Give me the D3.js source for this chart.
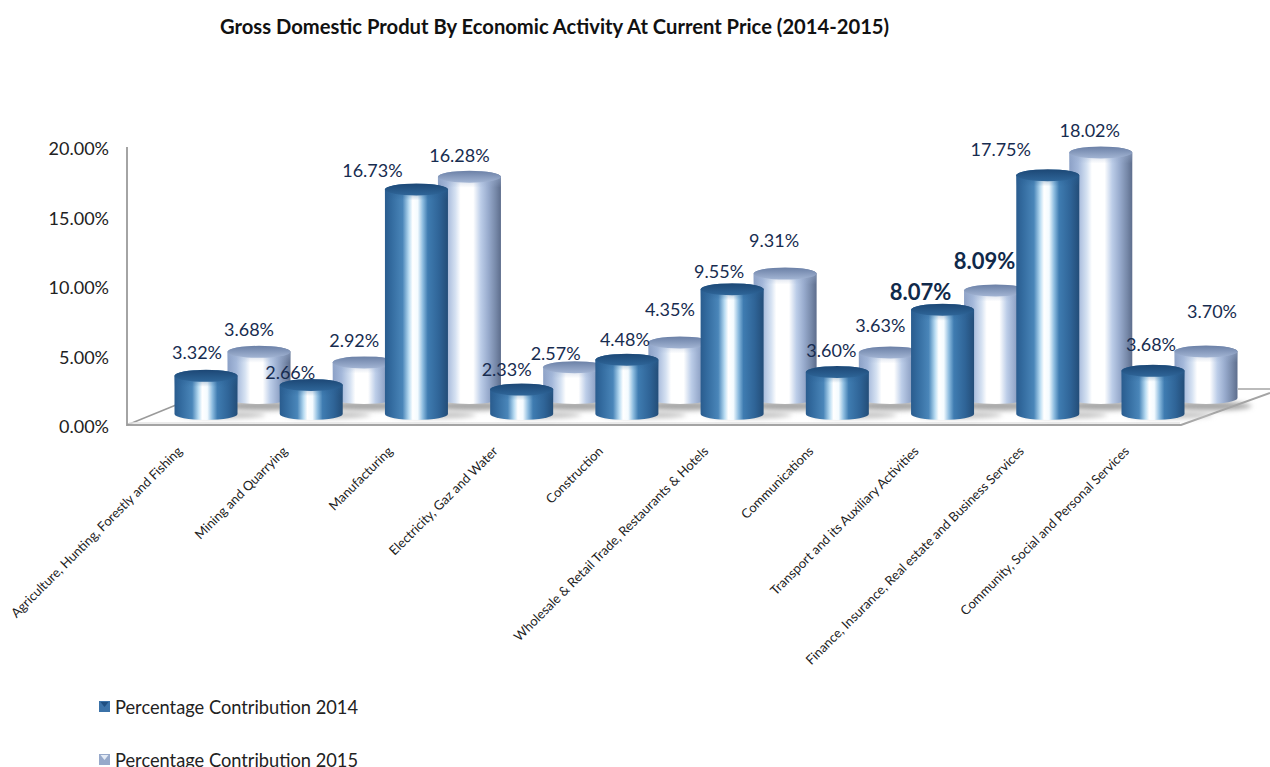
<!DOCTYPE html>
<html lang="en">
<head>
<meta charset="utf-8">
<script src="https://d3js.org/d3.v7.min.js"></script>
<style>
    html, body { margin: 0; padding: 0; background: #fff; overflow: hidden; }
    svg { display: block; }
    text { font-family: Lato, "Open Sans", sans-serif; }
    .domain { display: none; }
    .tick line { display: none; }
</style>
</head>
<body>
<div id="chart"></div>
<script>
    var categories = [
        "Agriculture, Hunting, Forestly and Fishing",
        "Mining and Quarrying",
        "Manufacturing",
        "Electricity, Gaz and Water",
        "Construction",
        "Wholesale & Retail Trade, Restaurants & Hotels",
        "Communications",
        "Transport and its Auxiliary Activities",
        "Finance, Insurance, Real estate and Business Services",
        "Community, Social and Personal Services"
    ];
    var values2014 = [3.32, 2.66, 16.73, 2.33, 4.48, 9.55, 3.60, 8.07, 17.75, 3.68];
    var values2015 = [3.68, 2.92, 16.28, 2.57, 4.35, 9.31, 3.63, 8.09, 18.02, 3.70];
    var yTicks = [0, 5, 10, 15, 20];
    var seriesNames = ["Percentage Contribution 2014", "Percentage Contribution 2015"];

    // hand placed data labels, offset from the top of each cylinder
    var nudge2014 = [[-9, -11], [-21, 0], [-44, -6], [-15, -8], [-2, -8], [-13, -5], [-6, -9], [-22, -4], [-47, -13], [-2, -14]];
    var nudge2015 = [[-10, -10], [-10, -9], [-10, -9], [-19, -1], [-10, -21], [-11, -21], [-10, -15], [-11, -16], [-11, -10], [6, -28]];

    var width = 1270, height = 767;
    var svg = d3.select("#chart").append("svg").attr("width", width).attr("height", height);
    var defs = svg.append("defs");

    function grad(id, stops, vertical) {
        var g = defs.append("linearGradient").attr("id", id);
        if (vertical) g.attr("x1", 0).attr("x2", 0).attr("y1", 0).attr("y2", 1);
        stops.forEach(function(s) {
            g.append("stop").attr("offset", s[0]).attr("stop-color", s[1]).attr("stop-opacity", s[2] === undefined ? 1 : s[2]);
        });
    }
    grad("body14", [[0, "#2a5c8e"], [0.1, "#336b9f"], [0.28, "#4a86b9"], [0.38, "#b9dcf2"], [0.44, "#ffffff"], [0.52, "#f4fbff"], [0.6, "#8ebde0"], [0.68, "#3f7cb1"], [0.86, "#2f6497"], [1, "#234d78"]]);
    grad("body15", [[0, "#8ba0c6"], [0.14, "#a4b8da"], [0.28, "#d6e2f2"], [0.36, "#ffffff"], [0.56, "#ffffff"], [0.68, "#bccde8"], [0.8, "#98abcd"], [0.92, "#7688a8"], [1, "#5d6d8c"]]);
    grad("top14", [[0, "#1c4775"], [1, "#2f6699"]], true);
    grad("top15", [[0, "#6b80a6"], [1, "#a3b5d4"]], true);
    grad("bevel14", [[0, "#2a5f93", 0.55], [1, "#2a5f93", 0]], true);
    grad("bevel15", [[0, "#98abcc", 0.55], [1, "#98abcc", 0]], true);

    var blur = defs.append("filter").attr("id", "soft").attr("x", "-30%").attr("y", "-100%").attr("width", "160%").attr("height", "300%");
    blur.append("feGaussianBlur").attr("stdDeviation", 2.5);

    // value scale, a cylinder top sits at rowBase + y(v)
    var y = d3.scaleLinear().domain([0, 20]).range([425, 147]);
    var x = d3.scalePoint().domain(categories).range([206, 1153]);
    var rx = 31.5, ry = 6;

    // title
    svg.append("text").attr("x", 220).attr("y", 34)
        .attr("font-size", 20.2).attr("font-weight", 700).attr("fill", "#111")
        .text("Gross Domestic Produt By Economic Activity At Current Price (2014-2015)");

    // floor and wall
    var wall = "#a4a4a4";
    svg.append("path").attr("d", "M127,147V425H1181L1270,393").attr("fill", "none").attr("stroke", wall).attr("stroke-width", 2);
    svg.append("path").attr("d", "M127,425L176,405").attr("fill", "none").attr("stroke", "#9a9a9a").attr("stroke-width", 1.5);
    svg.append("path").attr("d", "M1238,389H1270").attr("fill", "none").attr("stroke", wall).attr("stroke-width", 1.5);
    svg.append("path").attr("d", "M129,423H1180").attr("fill", "none").attr("stroke", "#e4e4e4").attr("stroke-width", 1.5);

    var yAxis = d3.axisLeft(y).tickValues(yTicks).tickSize(0).tickPadding(18)
        .tickFormat(function(d) { return d3.format(".2f")(d) + "%"; });
    var yg = svg.append("g").attr("transform", "translate(127,2)").call(yAxis);
    yg.selectAll("text").attr("font-size", 18).attr("fill", "#222").style("font-family", "Lato, sans-serif");

    function cylinder(d, topY, baseY) {
        var l = d.cx - rx, r = d.cx + rx;
        return "M" + l + "," + topY +
            "V" + baseY +
            "A" + rx + "," + ry + " 0 0 0 " + r + "," + baseY +
            "V" + topY +
            "A" + rx + "," + ry + " 0 0 0 " + l + "," + topY + "Z";
    }

    function rows(values, dx, base, zero, nudge, key) {
        return values.map(function(v, i) {
            return {
                v: v, i: i, key: key, base: base,
                cx: x(categories[i]) + dx,
                top: zero + y(v) - y(0),
                nudge: nudge[i]
            };
        });
    }
    var back = rows(values2015, 53, 398, 403, nudge2015, "15");
    var front = rows(values2014, 0, 414, 422, nudge2014, "14");

    function drawRow(data, shadowColor, shadowDx, shadowDy, shadowRy) {
        var g = svg.append("g");
        g.selectAll(".shadow").data(data).enter().append("ellipse")
            .attr("class", "shadow")
            .attr("cx", function(d) { return d.cx + shadowDx; })
            .attr("cy", function(d) { return d.base + shadowDy; })
            .attr("rx", rx + 12).attr("ry", shadowRy)
            .attr("fill", shadowColor).attr("filter", "url(#soft)");
        g.selectAll(".cyl").data(data).enter().append("path")
            .attr("class", "cyl")
            .attr("d", function(d) { return cylinder(d, d.top, d.base); })
            .attr("fill", function(d) { return "url(#body" + d.key + ")"; });
        // soft shading just under the lid
        g.selectAll(".bevel").data(data).enter().append("rect")
            .attr("x", function(d) { return d.cx - rx; })
            .attr("y", function(d) { return d.top; })
            .attr("width", rx * 2)
            .attr("height", ry + 5)
            .attr("fill", function(d) { return "url(#bevel" + d.key + ")"; });
        g.selectAll(".lid").data(data).enter().append("ellipse")
            .attr("cx", function(d) { return d.cx; })
            .attr("cy", function(d) { return d.top; })
            .attr("rx", rx).attr("ry", ry)
            .attr("fill", function(d) { return "url(#top" + d.key + ")"; });
    }
    drawRow(back, "#a6a6a6", 2, 8, 4.5);
    drawRow(front, "#c4c4c4", 16, 1, 3.5);

    // data labels over everything, 8.07 and 8.09 are emphasised in the original
    var labels = back.concat(front);
    svg.append("g").selectAll("text").data(labels).enter().append("text")
        .attr("x", function(d) { return d.cx + d.nudge[0]; })
        .attr("y", function(d) { return d.top - ry + d.nudge[1]; })
        .attr("text-anchor", "middle")
        .attr("fill", function(d) { return d.i == 7 ? "#10294a" : "#172c50"; })
        .attr("font-size", function(d) { return d.i == 7 ? 22 : 18; })
        .attr("font-weight", function(d) { return d.i == 7 ? 700 : 400; })
        .text(function(d) { return d3.format(".2f")(d.v) + "%"; });

    // category labels
    svg.append("g").selectAll("text").data(categories).enter().append("text")
        .attr("transform", function(d) { return "translate(" + (x(d) - 23) + ",452) rotate(-45)"; })
        .attr("text-anchor", "end")
        .attr("font-size", 13).attr("fill", "#222")
        .text(function(d) { return d; });

    // legend, the last row runs off the bottom of the page as it does in the original
    var legendY = d3.scalePoint().domain(seriesNames).range([707, 760]);
    var leg = svg.append("g").selectAll("g").data(seriesNames).enter().append("g")
        .attr("transform", function(d) { return "translate(99," + legendY(d) + ")"; });
    leg.append("rect").attr("x", 0).attr("y", -6).attr("width", 11).attr("height", 11)
        .attr("fill", function(d, i) { return i == 0 ? "#3b72a8" : "#97a9ca"; });
    leg.append("path").attr("d", "M1.5,-5L5.5,0L9.5,-5Z")
        .attr("fill", function(d, i) { return i == 0 ? "#1f4f82" : "#e4ebf5"; });
    leg.append("text").attr("x", 16).attr("y", 6.5)
        .attr("font-size", 18.25).attr("fill", "#222")
        .text(function(d) { return d; });
</script>
</body>
</html>
